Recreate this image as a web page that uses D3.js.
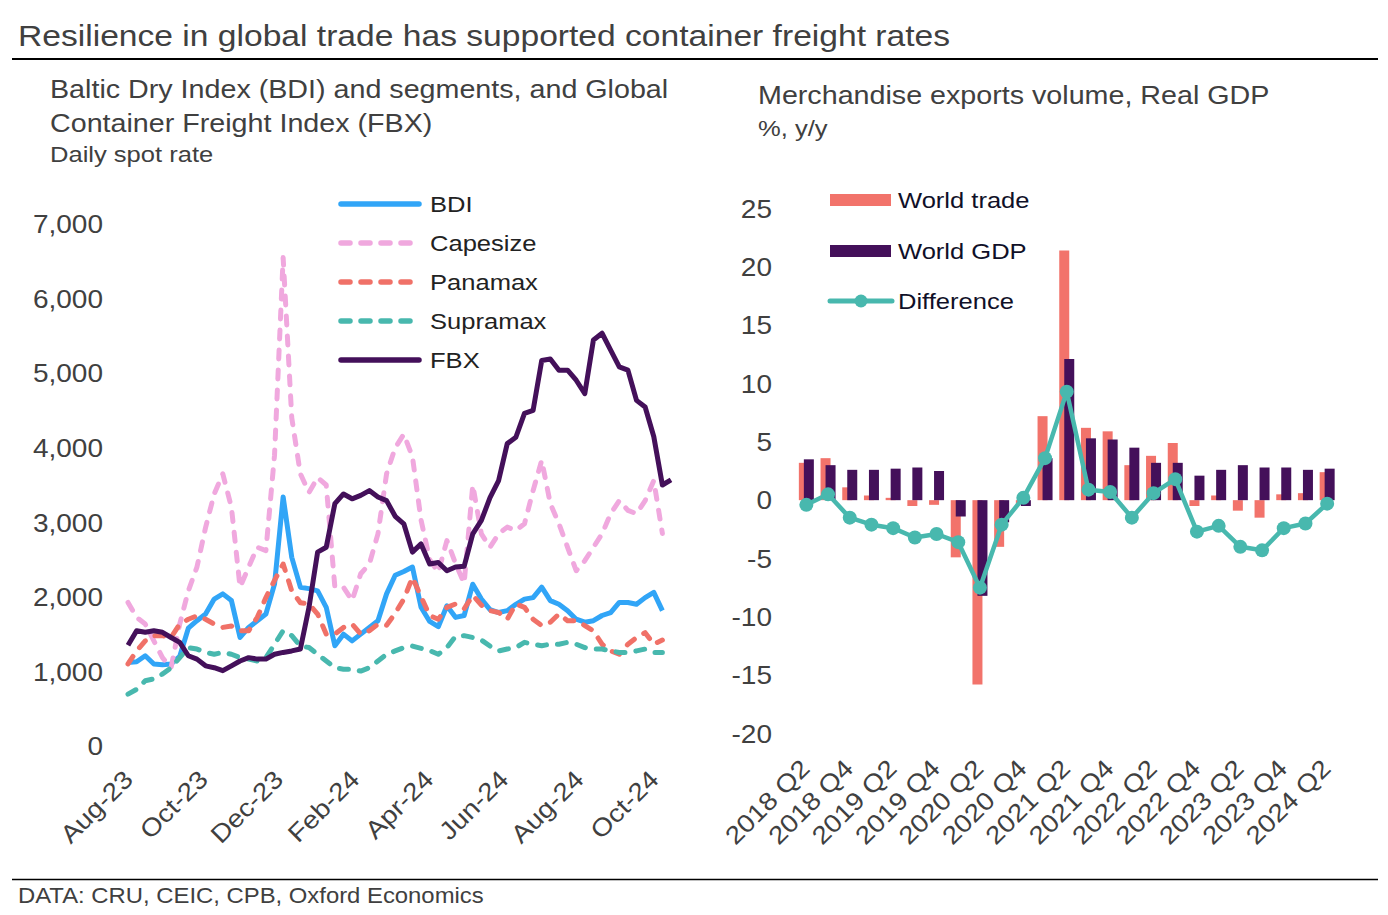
<!DOCTYPE html>
<html>
<head>
<meta charset="utf-8">
<script src="https://cdn.jsdelivr.net/npm/d3@7"></script>
<style>
html,body{margin:0;padding:0;background:#fff;}
svg{display:block;}
text{font-family:"Liberation Sans",Arial,sans-serif;}
</style>
</head>
<body>
<svg id="chart" width="1388" height="915"></svg>
<script>
// ---------- DATA: left panel (weekly readings, daily spot rate) ----------
const weekDates = ["2023-08-01","2023-08-08","2023-08-15","2023-08-22","2023-08-29","2023-09-05","2023-09-12","2023-09-19","2023-09-26",
"2023-10-03","2023-10-10","2023-10-17","2023-10-24","2023-10-31","2023-11-07","2023-11-14","2023-11-21","2023-11-28",
"2023-12-05","2023-12-12","2023-12-19","2023-12-26","2024-01-02","2024-01-09","2024-01-16","2024-01-23","2024-01-30",
"2024-02-06","2024-02-13","2024-02-20","2024-02-27","2024-03-05","2024-03-12","2024-03-19","2024-03-26",
"2024-04-02","2024-04-09","2024-04-16","2024-04-23","2024-04-30","2024-05-07","2024-05-14","2024-05-21","2024-05-28",
"2024-06-04","2024-06-11","2024-06-18","2024-06-25","2024-07-02","2024-07-09","2024-07-16","2024-07-23","2024-07-30",
"2024-08-06","2024-08-13","2024-08-20","2024-08-27","2024-09-03","2024-09-10","2024-09-17","2024-09-24",
"2024-10-01","2024-10-08","2024-10-15"];

const bdi = [1120,1130,1210,1100,1090,1100,1200,1580,1680,1770,1970,2040,1950,1455,1590,1680,1770,2170,3340,2530,2130,2110,2080,1860,1345,1500,1410,1500,1590,1680,2040,2290,2340,2400,1860,1670,1600,1880,1725,1750,2170,1970,1830,1790,1815,1900,1970,1990,2130,1950,1900,1815,1700,1660,1680,1750,1790,1925,1925,1900,1990,2060,1815];
const capesize = [1925,1725,1635,1410,1185,1050,1635,2080,2400,2930,3380,3650,3200,2130,2400,2665,2620,3900,6550,4400,3650,3400,3600,3500,2130,2130,1950,2310,2440,2845,3650,4000,4180,3880,3030,2500,2330,2755,2450,2180,3500,2845,2665,2845,2935,2890,2980,3425,3830,3250,2980,2665,2350,2485,2665,2845,3115,3290,3160,3115,3290,3560,2850];
const panamax = [1100,1275,1410,1480,1480,1455,1635,1700,1745,1700,1635,1590,1610,1545,1545,1725,1990,2220,2440,2080,1920,1905,1770,1500,1500,1590,1635,1500,1545,1635,1620,1780,1970,2260,2000,1750,1700,1860,1905,1840,2020,1890,1815,1790,1700,1905,1860,1700,1615,1660,1770,1680,1680,1615,1545,1365,1275,1230,1365,1455,1520,1365,1420];
const supramax = [695,760,875,900,965,1050,1185,1320,1300,1255,1230,1255,1230,1185,1165,1140,1185,1365,1545,1480,1340,1320,1230,1140,1050,1030,1030,1005,1050,1140,1230,1275,1320,1340,1310,1280,1230,1320,1470,1480,1455,1420,1340,1275,1300,1320,1390,1365,1345,1365,1365,1390,1365,1320,1300,1300,1275,1255,1255,1275,1300,1255,1255];
const fbx = [1350,1545,1525,1545,1525,1455,1390,1210,1165,1075,1050,1010,1075,1140,1185,1165,1165,1230,1255,1275,1300,1860,2600,2665,3250,3380,3315,3360,3425,3340,3290,3080,2980,2600,2710,2440,2460,2350,2400,2410,2845,3025,3330,3560,4055,4140,4460,4500,5170,5190,5040,5040,4905,4725,5445,5535,5310,5085,5040,4635,4545,4150,3500,3570];

const leftSeriesNames = ["BDI","Capesize","Panamax","Supramax","FBX"];
const leftYTicks = [0,1000,2000,3000,4000,5000,6000,7000];
const leftXTickDates = ["2023-08-01","2023-10-01","2023-12-01","2024-02-01","2024-04-01","2024-06-01","2024-08-01","2024-10-01"];
const leftXTickLabels = ["Aug-23","Oct-23","Dec-23","Feb-24","Apr-24","Jun-24","Aug-24","Oct-24"];

// ---------- DATA: right panel (% y/y) ----------
const quarters = ["2018 Q2","2018 Q3","2018 Q4","2019 Q1","2019 Q2","2019 Q3","2019 Q4","2020 Q1","2020 Q2","2020 Q3","2020 Q4",
"2021 Q1","2021 Q2","2021 Q3","2021 Q4","2022 Q1","2022 Q2","2022 Q3","2022 Q4","2023 Q1","2023 Q2","2023 Q3","2023 Q4","2024 Q1","2024 Q2"];
const worldTrade = [3.2,3.6,1.1,0.4,0.2,-0.5,-0.4,-4.9,-15.8,-4.0,-0.3,7.2,21.4,6.2,5.9,3.0,3.8,4.9,-0.5,0.4,-0.9,-1.5,0.5,0.6,2.4];
const worldGDP   = [3.5,3.0,2.6,2.6,2.7,2.8,2.5,-1.4,-8.2,-1.9,-0.5,3.6,12.1,5.3,5.2,4.5,3.2,3.2,2.1,2.6,3.0,2.8,2.8,2.6,2.7];
const difference = [-0.4,0.5,-1.5,-2.1,-2.4,-3.2,-2.9,-3.6,-7.5,-2.1,0.2,3.6,9.3,0.9,0.7,-1.5,0.6,1.8,-2.7,-2.2,-4.0,-4.3,-2.4,-2.0,-0.3];
const rightSeriesNames = ["World trade","World GDP","Difference"];
const rightYTicks = [25,20,15,10,5,0,-5,-10,-15,-20];
const rightXTickLabels = ["2018 Q2","2018 Q4","2019 Q2","2019 Q4","2020 Q2","2020 Q4","2021 Q2","2021 Q4","2022 Q2","2022 Q4","2023 Q2","2023 Q4","2024 Q2"];

// ---------- STYLE ----------
const C = {bdi:"#31A5F7", cape:"#F0A8DE", pana:"#F07168", supra:"#48B8AE", fbx:"#44105A",
           trade:"#F2736B", gdp:"#44105A", diff:"#48B8AE", text:"#404040", legL:"#222222", legR:"#101028"};
const SX = 1.12; // horizontal glyph stretch seen in the reference
const DASH = "9,11";

const svg = d3.select("#chart");
const parse = d3.timeParse("%Y-%m-%d");

function stretch(sel){
  sel.each(function(){
    const n = this.getComputedTextLength();
    d3.select(this).attr("textLength", n*SX).attr("lengthAdjust","spacingAndGlyphs");
  });
  return sel;
}
function txt(x,y,s,size,color,anchor){
  const t = svg.append("text").attr("x",x).attr("y",y).attr("font-size",size)
    .attr("fill",color).attr("text-anchor",anchor||"start").text(s);
  stretch(t);
  return t;
}
const FONT = '"Liberation Sans",Arial,sans-serif';

// ---------- Titles ----------
txt(18,45.5,"Resilience in global trade has supported container freight rates",30,C.text);
svg.append("line").attr("x1",12).attr("x2",1378).attr("y1",59).attr("y2",59).attr("stroke","#000").attr("stroke-width",2);
txt(50,98,"Baltic Dry Index (BDI) and segments, and Global",25.6,C.text);
txt(50,131.5,"Container Freight Index (FBX)",25.6,C.text);
txt(50,161.5,"Daily spot rate",22.8,C.text);
txt(758,104,"Merchandise exports volume, Real GDP",25.6,C.text);
txt(758,136,"%, y/y",22.8,C.text);
svg.append("line").attr("x1",12).attr("x2",1378).attr("y1",879.5).attr("y2",879.5).attr("stroke","#000").attr("stroke-width",1.3);
txt(18,903,"DATA: CRU, CEIC, CPB, Oxford Economics",21.3,C.text);

// ---------- Left panel ----------
const dates = weekDates.map(parse);
const xL = d3.scaleTime().domain([parse("2023-08-01"), parse("2024-10-15")]).range([128, 671]);
const yL = d3.scaleLinear().domain([0,7000]).range([746,224]);

const yAxisL = d3.axisLeft(yL).tickValues(leftYTicks).tickFormat(d3.format(",")).tickSize(0).tickPadding(0);
svg.append("g").attr("transform","translate(103,0)").call(yAxisL)
  .call(g=>g.select(".domain").remove())
  .call(g=>g.selectAll("text").attr("font-size",25).attr("fill",C.text).attr("dy","0.35em").style("font-family",FONT))
  .call(g=>stretch(g.selectAll("text")));

const xTicks = leftXTickDates.map(parse);
const xAxisL = d3.axisBottom(xL).tickValues(xTicks).tickFormat((d,i)=>leftXTickLabels[i]).tickSize(0).tickPadding(0);
svg.append("g").call(xAxisL)
  .call(g=>g.select(".domain").remove())
  .call(g=>g.selectAll(".tick text").attr("font-size",25).attr("fill",C.text).style("font-family",FONT)
        .attr("text-anchor","end").attr("y",0).attr("dy",0)
        .attr("transform","translate(6,781) rotate(-45)"))
  .call(g=>stretch(g.selectAll(".tick text")));

const lineL = d3.line().x(d=>xL(d[0])).y(d=>yL(d[1]));
const leftSeries = [
  {name:leftSeriesNames[0], vals:bdi, color:C.bdi, dash:null},
  {name:leftSeriesNames[1], vals:capesize, color:C.cape, dash:DASH},
  {name:leftSeriesNames[2], vals:panamax, color:C.pana, dash:DASH},
  {name:leftSeriesNames[3], vals:supramax, color:C.supra, dash:DASH},
  {name:leftSeriesNames[4], vals:fbx, color:C.fbx, dash:null}
];
const gL = svg.append("g");
leftSeries.forEach(s=>{
  const pts = s.vals.map((v,i)=>[dates[i],v]);
  gL.append("path").attr("d",lineL(pts)).attr("fill","none").attr("stroke",s.color)
    .attr("stroke-width",5).attr("stroke-linejoin","round").attr("stroke-linecap",s.dash?"round":"butt")
    .attr("stroke-dasharray",s.dash);
});
// left legend
leftSeries.forEach((s,i)=>{
  const yy = 204 + i*39;
  svg.append("line").attr("x1",341).attr("x2",419).attr("y1",yy).attr("y2",yy)
    .attr("stroke",s.color).attr("stroke-width",5.5).attr("stroke-linecap","round").attr("stroke-dasharray",s.dash);
  txt(430,yy,s.name,22.8,C.legL).attr("dy","0.35em");
});

// ---------- Right panel ----------
const xR = d3.scaleBand().domain(quarters).range([795.5,1338]).padding(0);
const yR = d3.scaleLinear().domain([-20,25]).range([733.5,208.5]);
const bw = 10;
const cx = q => xR(q) + xR.bandwidth()/2;

const yAxisR = d3.axisLeft(yR).tickValues(rightYTicks).tickFormat(d=>String(d)).tickSize(0).tickPadding(0);
svg.append("g").attr("transform","translate(772,0)").call(yAxisR)
  .call(g=>g.select(".domain").remove())
  .call(g=>g.selectAll("text").attr("font-size",25).attr("fill",C.text).attr("dy","0.35em").style("font-family",FONT))
  .call(g=>stretch(g.selectAll("text")));

const xAxisR = d3.axisBottom(xR).tickValues(rightXTickLabels).tickSize(0).tickPadding(0);
svg.append("g").call(xAxisR)
  .call(g=>g.select(".domain").remove())
  .call(g=>g.selectAll(".tick text").attr("font-size",25).attr("fill",C.text).style("font-family",FONT)
        .attr("text-anchor","end").attr("y",0).attr("dy",0)
        .attr("transform","translate(5,770) rotate(-45)"))
  .call(g=>stretch(g.selectAll(".tick text")));

const gR = svg.append("g");
gR.selectAll(".tr").data(quarters).enter().append("rect")
  .attr("x",q=>cx(q)-7.5).attr("width",bw)
  .attr("y",(q,i)=>yR(Math.max(0,worldTrade[i])))
  .attr("height",(q,i)=>Math.abs(yR(worldTrade[i])-yR(0)))
  .attr("fill",C.trade);
gR.selectAll(".gd").data(quarters).enter().append("rect")
  .attr("x",q=>cx(q)-2.5).attr("width",bw)
  .attr("y",(q,i)=>yR(Math.max(0,worldGDP[i])))
  .attr("height",(q,i)=>Math.abs(yR(worldGDP[i])-yR(0)))
  .attr("fill",C.gdp);
const lineR = d3.line().x((d,i)=>cx(quarters[i])).y(d=>yR(d));
gR.append("path").attr("d",lineR(difference)).attr("fill","none").attr("stroke",C.diff)
  .attr("stroke-width",4.5).attr("stroke-linejoin","round");
gR.selectAll(".dot").data(difference).enter().append("circle")
  .attr("cx",(d,i)=>cx(quarters[i])).attr("cy",d=>yR(d)).attr("r",7).attr("fill",C.diff);

// right legend
svg.append("rect").attr("x",830).attr("y",194).attr("width",61).attr("height",12).attr("fill",C.trade);
txt(898,200,rightSeriesNames[0],22.8,C.legR).attr("dy","0.35em");
svg.append("rect").attr("x",830).attr("y",245).attr("width",61).attr("height",12).attr("fill",C.gdp);
txt(898,251,rightSeriesNames[1],22.8,C.legR).attr("dy","0.35em");
svg.append("line").attr("x1",830).attr("x2",892).attr("y1",301).attr("y2",301).attr("stroke",C.diff).attr("stroke-width",5).attr("stroke-linecap","round");
svg.append("circle").attr("cx",861).attr("cy",301).attr("r",6.5).attr("fill",C.diff);
txt(898,301,rightSeriesNames[2],22.8,C.legR).attr("dy","0.35em");
</script>
</body>
</html>
